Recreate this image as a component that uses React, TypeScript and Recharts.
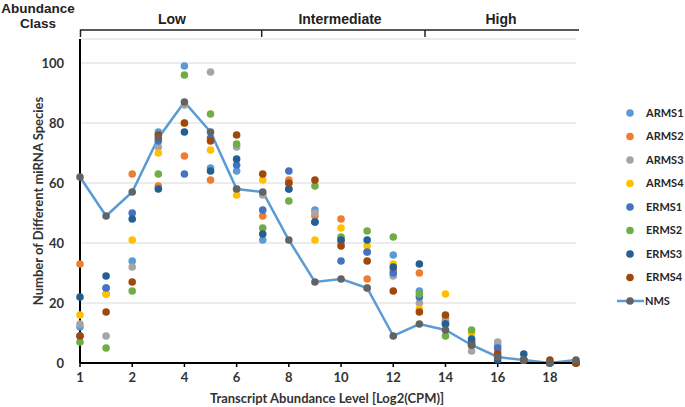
import { ComposedChart, Line, XAxis, YAxis, CartesianGrid } from "recharts";

const levels = ["1", "1.5", "2", "3", "4", "5", "6", "7", "8", "9", "10", "11", "12", "13", "14", "15", "16", "17", "18", "19"];

const ARMS1 = [12, 25, 34, 77, 99, 65, 64, 41, 58, 51, 41, 37, 36, 24, 14, 7, 6, 1, 0, 0];
const ARMS2 = [33, 23, 63, 59, 69, 61, 58, 49, 61, 49, 48, 28, 31, 30, 15, 6, 4, 1, 0, 0];
const ARMS3 = [13, 9, 32, 72, 86, 97, 72, 56, 60, 50, 40, 25, 29, 20, 14, 4, 7, 1, 0, 0];
const ARMS4 = [16, 23, 41, 70, 80, 71, 56, 61, 60, 41, 45, 39, 33, 18, 23, 10, 2, 1, 0, 0];
const ERMS1 = [9, 25, 50, 74, 63, 75, 66, 51, 64, 47, 34, 37, 30, 22, 13, 7, 5, 1, 0, 0];
const ERMS2 = [7, 5, 24, 63, 96, 83, 73, 45, 54, 59, 42, 44, 42, 23, 9, 11, 2, 1, 0, 0];
const ERMS3 = [22, 29, 48, 58, 77, 64, 68, 43, 58, 47, 41, 41, 32, 33, 13, 8, 1, 3, 0, 0];
const ERMS4 = [9, 17, 27, 76, 80, 74, 76, 63, 60, 61, 39, 34, 24, 17, 16, 6, 3, 1, 1, 0];
const NMS = [62, 49, 57, 75, 87, 77, 58, 57, 41, 27, 28, 25, 9, 13, 11, 6, 2, 1, 0, 1];

const yTicks = [0, 20, 40, 60, 80, 100];

const classes = [
  { name: "Low", x: 172 },
  { name: "Intermediate", x: 340 },
  { name: "High", x: 501 },
];

const samples = [
  { key: "ARMS1", values: ARMS1, color: "#5B9BD5" },
  { key: "ARMS2", values: ARMS2, color: "#ED7D31" },
  { key: "ARMS3", values: ARMS3, color: "#A5A5A5" },
  { key: "ARMS4", values: ARMS4, color: "#FFC000" },
  { key: "ERMS1", values: ERMS1, color: "#4472C4" },
  { key: "ERMS2", values: ERMS2, color: "#70AD47" },
  { key: "ERMS3", values: ERMS3, color: "#255E91" },
  { key: "ERMS4", values: ERMS4, color: "#9E480E" },
];

const data = levels.map((lv, i) => {
  const row: Record<string, string | number> = { level: lv, NMS: NMS[i] };
  samples.forEach((s) => (row[s.key] = s.values[i]));
  return row;
});

const FONT = "Lato, 'Open Sans', sans-serif";
const ARIAL = "'Liberation Sans', Arial, sans-serif";

function LegendItems() {
  const y = (i: number) => 113 + i * 23.5;
  return (
    <g>
      {samples.map((s, i) => (
        <g key={s.key}>
          <circle cx={630} cy={y(i)} r={3.8} fill={s.color} />
          <text x={646} y={y(i)} dy="0.35em" fontSize={11} fontWeight="bold" fill="#262626" fontFamily={FONT}>
            {s.key}
          </text>
        </g>
      ))}
      <line x1={617} x2={644} y1={y(8)} y2={y(8)} stroke="#5B9BD5" strokeWidth={2.5} />
      <circle cx={630} cy={y(8)} r={3.8} fill="#636363" />
      <text x={645} y={y(8)} dy="0.35em" fontSize={11} fontWeight="bold" fill="#262626" fontFamily={FONT}>
        NMS
      </text>
    </g>
  );
}

export default function App() {
  return (
    <div style={{ position: "absolute", left: 0, top: 0, width: 685, height: 407, background: "#fff" }}>
      <ComposedChart width={685} height={407} data={data} margin={{ top: 39, right: 109, bottom: 24, left: 0 }}>
        <CartesianGrid vertical={false} stroke="#d9d9d9" />
        <XAxis
          dataKey="level"
          interval={1}
          axisLine={{ stroke: "#000", strokeWidth: 2 }}
          tickLine={{ stroke: "#000", strokeWidth: 1.5 }}
          tickSize={4}
          tickMargin={6}
          height={20}
          tick={{ fontSize: 13, fontWeight: "bold", fill: "#333", fontFamily: FONT }}
        />
        <YAxis
          width={80}
          domain={[0, 108]}
          ticks={yTicks}
          interval={0}
          axisLine={{ stroke: "#000", strokeWidth: 2 }}
          tickLine={false}
          tickMargin={10}
          tick={{ fontSize: 13, fontWeight: "bold", fill: "#333", fontFamily: FONT }}
        />
        {samples.map((s) => (
          <Line
            key={s.key}
            dataKey={s.key}
            stroke="none"
            dot={{ r: 3.8, fill: s.color, stroke: s.color, strokeWidth: 0 }}
            activeDot={false}
            isAnimationActive={false}
          />
        ))}
        <Line
          dataKey="NMS"
          stroke="#5B9BD5"
          strokeWidth={2.5}
          dot={{ r: 3.8, fill: "#636363", stroke: "#636363", strokeWidth: 0 }}
          activeDot={false}
          isAnimationActive={false}
        />
      </ComposedChart>
      <svg width={685} height={407} style={{ position: "absolute", left: 0, top: 0, pointerEvents: "none" }}>
        <text x={38} y={8} dy="0.35em" textAnchor="middle" fontSize={13.5} fontWeight="bold" fontFamily={ARIAL} fill="#222">
          Abundance
        </text>
        <text x={38} y={23.5} dy="0.35em" textAnchor="middle" fontSize={13.5} fontWeight="bold" fontFamily={ARIAL} fill="#222">
          Class
        </text>
        <polyline points="80.5,37 80.5,30 579,30" fill="none" stroke="#222" strokeWidth={1.5} />
        <line x1={261.7} x2={261.7} y1={30} y2={37} stroke="#222" strokeWidth={1.5} />
        <line x1={425} x2={425} y1={30} y2={37} stroke="#222" strokeWidth={1.5} />
        {classes.map((c) => (
          <text key={c.name} x={c.x} y={19} dy="0.35em" textAnchor="middle" fontSize={14} fontWeight="bold" fontFamily={ARIAL} fill="#222">
            {c.name}
          </text>
        ))}
        <LegendItems />
        <text x={327} y={398} dy="0.35em" textAnchor="middle" fontSize={13} fontWeight="bold" fontFamily={FONT} fill="#333">
          Transcript Abundance Level [Log2(CPM)]
        </text>
        <text
          x={38}
          y={201}
          dy="0.35em"
          textAnchor="middle"
          fontSize={13}
          fontWeight="bold"
          fontFamily={FONT}
          fill="#333"
          transform="rotate(-90 38 201)"
        >
          Number of Different miRNA Species
        </text>
      </svg>
    </div>
  );
}
